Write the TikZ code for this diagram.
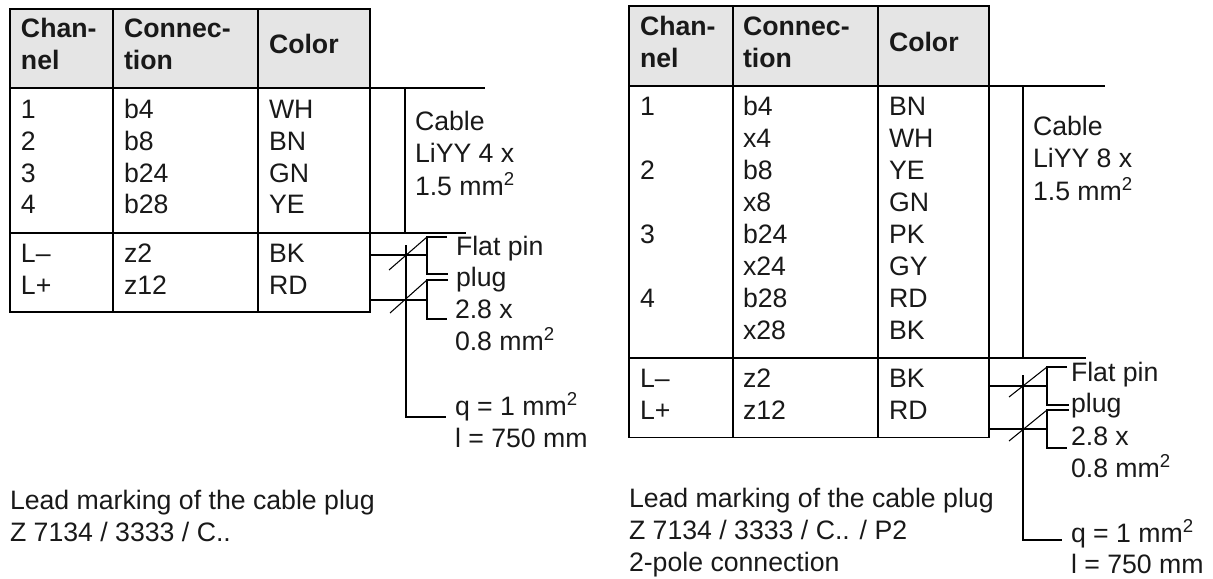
\documentclass[tikz,border=0pt]{standalone}
\usepackage{fontspec}
\setmainfont{Liberation Sans}
\newcommand{\sqtwo}{\raisebox{0.37em}{\fontsize{14pt}{15pt}\selectfont 2}}
\tikzset{
  x=0.75pt,y=-0.75pt,
  txt/.style={anchor=base west,inner sep=0pt,outer sep=0pt,font=\fontsize{20pt}{24pt}\selectfont,text=black!90},
  hd/.style={txt,font=\fontsize{20pt}{24pt}\selectfont\bfseries},
  rule/.style={draw=black,line width=1.25pt,line cap=butt,line join=miter},
  thin rule/.style={draw=black,line width=0.8pt},
  headfill/.style={fill=black!10,draw=none}
}
\newcommand{\lbl}[4]{\node[txt] (#1) at (#2,#3) {#4};}
\newcommand{\hdl}[4]{\node[hd] (#1) at (#2,#3) {#4};}
\begin{document}
\begin{tikzpicture}
\useasboundingbox (0,0) rectangle (1213,578);
% ---------- left table
\coordinate (LA) at (10,9); \coordinate (LB) at (113,9); \coordinate (LC) at (258,9); \coordinate (LD) at (370,9);
\coordinate (La) at (10,88); \coordinate (Ld) at (370,88);
\coordinate (Lm) at (10,233); \coordinate (Ln) at (370,233);
\coordinate (LP) at (10,312); \coordinate (LQ) at (113,312); \coordinate (LR) at (258,312); \coordinate (LS) at (370,312);
\fill[headfill] (LA) rectangle (Ld);
\draw[rule] (LA) rectangle (LS);
\draw[rule] (LB) -- (LQ);
\draw[rule] (LC) -- (LR);
\coordinate (Lt1) at (485,88); \coordinate (Lt2) at (466,233);
\draw[rule] (La) -- (Lt1);
\draw[rule] (Lm) -- (Lt2);
\coordinate (Lv1) at (405,88); \coordinate (Lv2) at (405,233);
\draw[rule] (Lv1) -- (Lv2);
% left wiring
\coordinate (Lw1) at (370,255); \coordinate (Lk1) at (427,255);
\coordinate (Lw2) at (370,300); \coordinate (Lk2) at (427,300);
\draw[rule] (Lw1) -- (Lk1);
\draw[rule] (Lw2) -- (Lk2);
\coordinate (Lb1a) at (447,237); \coordinate (Lb1b) at (427,237); \coordinate (Lb1c) at (427,274); \coordinate (Lb1d) at (448,274);
\coordinate (Lb2a) at (448,280); \coordinate (Lb2b) at (427,280); \coordinate (Lb2c) at (427,319); \coordinate (Lb2d) at (447,319);
\draw[rule] (Lb1a) -- (Lb1b) -- (Lb1c) -- (Lb1d);
\draw[rule] (Lb2a) -- (Lb2b) -- (Lb2c) -- (Lb2d);
\coordinate (Ls1) at (389,270); \coordinate (Ls2) at (390,313);
\draw[thin rule] (Ls1) -- (Lb1b);
\draw[thin rule] (Ls2) -- (Lb2b);
\coordinate (Lq1) at (406,245); \coordinate (Lq2) at (406,417); \coordinate (Lq3) at (446,417);
\draw[rule] (Lq1) -- (Lq2) -- (Lq3);
% left text
\hdl{lh1a}{21}{37}{Chan-} \hdl{lh1b}{21}{69}{nel}
\hdl{lh2a}{124}{37}{Connec-} \hdl{lh2b}{124}{69}{tion}
\hdl{lh3}{269}{53}{Color}
\lbl{l11}{21}{118}{1} \lbl{l12}{124}{118}{b4} \lbl{l13}{269}{118}{WH}
\lbl{l21}{21}{150}{2} \lbl{l22}{124}{150}{b8} \lbl{l23}{269}{150}{BN}
\lbl{l31}{21}{182}{3} \lbl{l32}{124}{182}{b24} \lbl{l33}{269}{182}{GN}
\lbl{l41}{21}{213}{4} \lbl{l42}{124}{213}{b28} \lbl{l43}{269}{213}{YE}
\lbl{l51}{21}{262}{L–} \lbl{l52}{124}{262}{z2} \lbl{l53}{269}{262}{BK}
\lbl{l61}{21}{294}{L+} \lbl{l62}{124}{294}{z12} \lbl{l63}{269}{294}{RD}
\lbl{lc1}{415}{130}{Cable} \lbl{lc2}{415}{162}{LiYY 4 x} \lbl{lc3}{415}{195}{1.5 mm\sqtwo}
\lbl{lf1}{456}{255}{Flat pin} \lbl{lf2}{456}{286}{plug} \lbl{lf3}{455}{318}{2.8 x} \lbl{lf4}{455}{350}{0.8 mm\sqtwo}
\lbl{lq1}{455}{415}{q = 1 mm\sqtwo} \lbl{lq2}{455}{447}{l = 750 mm}
\lbl{lm1}{10}{509}{Lead marking of the cable plug} \lbl{lm2}{10}{541}{Z 7134 / 3333 / C..}
% ---------- right table
\coordinate (RA) at (629,6); \coordinate (RB) at (733,6); \coordinate (RC) at (878,6); \coordinate (RD) at (989,6);
\coordinate (Ra) at (629,86); \coordinate (Rd) at (989,86);
\coordinate (Rm) at (629,358); \coordinate (Rn) at (989,358);
\coordinate (RP) at (629,437.5); \coordinate (RQ) at (733,437.5); \coordinate (RR) at (878,437.5); \coordinate (RS) at (989,437.5);
\fill[headfill] (RA) rectangle (Rd);
\draw[rule] (RA) rectangle (RS);
\draw[rule] (RB) -- (RQ);
\draw[rule] (RC) -- (RR);
\coordinate (Rt1) at (1105,86); \coordinate (Rt2) at (1086,358);
\draw[rule] (Ra) -- (Rt1);
\draw[rule] (Rm) -- (Rt2);
\coordinate (Rv1) at (1023,86); \coordinate (Rv2) at (1023,358);
\draw[rule] (Rv1) -- (Rv2);
% right wiring
\coordinate (Rw1) at (989,386); \coordinate (Rk1) at (1047,386);
\coordinate (Rw2) at (989,429); \coordinate (Rk2) at (1047,429);
\draw[rule] (Rw1) -- (Rk1);
\draw[rule] (Rw2) -- (Rk2);
\coordinate (Rb1a) at (1067,367); \coordinate (Rb1b) at (1047,367); \coordinate (Rb1c) at (1047,405); \coordinate (Rb1d) at (1069,405);
\coordinate (Rb2a) at (1069,410); \coordinate (Rb2b) at (1047,410); \coordinate (Rb2c) at (1047,448); \coordinate (Rb2d) at (1067,448);
\draw[rule] (Rb1a) -- (Rb1b) -- (Rb1c) -- (Rb1d);
\draw[rule] (Rb2a) -- (Rb2b) -- (Rb2c) -- (Rb2d);
\coordinate (Rs1) at (1009,397); \coordinate (Rs2) at (1009,441);
\draw[thin rule] (Rs1) -- (Rb1b);
\draw[thin rule] (Rs2) -- (Rb2b);
\coordinate (Rq1) at (1023,375); \coordinate (Rq2) at (1023,540); \coordinate (Rq3) at (1062,540);
\draw[rule] (Rq1) -- (Rq2) -- (Rq3);
% right text
\hdl{rh1a}{640}{35}{Chan-} \hdl{rh1b}{640}{67}{nel}
\hdl{rh2a}{743}{35}{Connec-} \hdl{rh2b}{743}{67}{tion}
\hdl{rh3}{889}{51}{Color}
\lbl{r11}{640}{115}{1} \lbl{r12}{743}{115}{b4} \lbl{r13}{889}{115}{BN}
\lbl{r22}{743}{147}{x4} \lbl{r23}{889}{147}{WH}
\lbl{r31}{640}{179}{2} \lbl{r32}{743}{179}{b8} \lbl{r33}{889}{179}{YE}
\lbl{r42}{743}{211}{x8} \lbl{r43}{889}{211}{GN}
\lbl{r51}{640}{243}{3} \lbl{r52}{743}{243}{b24} \lbl{r53}{889}{243}{PK}
\lbl{r62}{743}{275}{x24} \lbl{r63}{889}{275}{GY}
\lbl{r71}{640}{307}{4} \lbl{r72}{743}{307}{b28} \lbl{r73}{889}{307}{RD}
\lbl{r82}{743}{339}{x28} \lbl{r83}{889}{339}{BK}
\lbl{r91}{640}{387}{L–} \lbl{r92}{743}{387}{z2} \lbl{r93}{889}{387}{BK}
\lbl{ra1}{640}{419}{L+} \lbl{ra2}{743}{419}{z12} \lbl{ra3}{889}{419}{RD}
\lbl{rc1}{1033}{135}{Cable} \lbl{rc2}{1033}{167}{LiYY 8 x} \lbl{rc3}{1033}{200}{1.5 mm\sqtwo}
\lbl{rf1}{1071}{381}{Flat pin} \lbl{rf2}{1071}{412}{plug} \lbl{rf3}{1071}{445}{2.8 x} \lbl{rf4}{1071}{477}{0.8 mm\sqtwo}
\lbl{rq1}{1071}{542}{q = 1 mm\sqtwo} \lbl{rq2}{1071}{573}{l = 750 mm}
\lbl{rm1}{629}{507}{Lead marking of the cable plug} \lbl{rm2}{629}{539}{Z 7134 / 3333 / C.. / P2} \lbl{rm3}{629}{571}{2-pole connection}
\end{tikzpicture}
\end{document}
